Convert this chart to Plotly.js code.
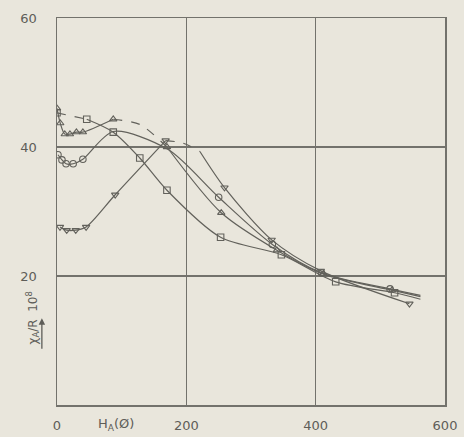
<!DOCTYPE html>
<html>
<head>
<meta charset="utf-8">
<script src="https://cdn.plot.ly/plotly-3.0.1.min.js"></script>
<style>
html,body{margin:0;padding:0;background:#e9e6dc;}
#chart{width:464px;height:437px;}
</style>
</head>
<body>
<div id="chart"></div>
<script>
// ---- data ----
var xTicks = [0, 200, 400, 600];
var yTicks = [20, 40, 60];
var xTickText = ["0", "200", "400", "600"];
var yTickText = ["20", "40", "60"];

// square series
var sqDashX = [0, 46];
var sqDashY = [45.3, 44.3];
var sqLineX = [46, 87, 128, 170, 253, 347, 431, 522, 562];
var sqLineY = [44.3, 42.3, 38.3, 33.3, 26.0, 23.3, 19.1, 17.4, 16.4];
var sqMarkX = [0, 46, 87, 128, 170, 253, 347, 431, 522];
var sqMarkY = [45.3, 44.3, 42.3, 38.3, 33.3, 26.0, 23.3, 19.1, 17.4];

// circle series
var ciLineX = [1.5, 7.7, 14, 25, 40, 87, 172, 250, 333, 409, 515, 562];
var ciLineY = [38.8, 38.0, 37.4, 37.4, 38.1, 42.4, 39.6, 32.2, 24.9, 20.5, 18.0, 17.0];
var ciMarkX = [1.5, 7.7, 14, 25, 40, 250, 333, 409, 515];
var ciMarkY = [38.8, 38.0, 37.4, 37.4, 38.1, 32.2, 24.9, 20.5, 18.0];

// triangle-up series
var tuLineX = [0, 5, 12, 20, 30, 40, 87];
var tuLineY = [46.0, 43.7, 42.0, 42.0, 42.3, 42.3, 44.3];
var tuDashX = [87, 128, 170];
var tuDashY = [44.3, 43.5, 40.0];
var tuLine2X = [170, 254, 340, 412, 518, 562];
var tuLine2Y = [40.0, 29.8, 24.0, 20.3, 17.8, 16.8];
var tuMarkX = [0, 5, 12, 20, 30, 40, 87, 170, 254, 340, 412, 518];
var tuMarkY = [46.0, 43.7, 42.0, 42.0, 42.3, 42.3, 44.3, 40.0, 29.8, 24.0, 20.3, 17.8];

// triangle-down series
var tdLineX = [4.6, 15, 29, 45, 90, 168];
var tdLineY = [27.6, 27.1, 27.1, 27.6, 32.6, 41.0];
var tdDashX = [168, 195, 221];
var tdDashY = [41.0, 40.6, 39.3];
var tdLine2X = [221, 259, 332, 408, 545];
var tdLine2Y = [39.3, 33.7, 25.6, 20.8, 15.7];
var tdMarkX = [4.6, 15, 29, 45, 90, 168, 259, 332, 408, 545];
var tdMarkY = [27.6, 27.1, 27.1, 27.6, 32.6, 41.0, 33.7, 25.6, 20.8, 15.7];

// ---- styling ----
var ink = '#62615b';
function lineTrace(x, y, dash) {
  return {x: x, y: y, type: 'scatter', mode: 'lines', hoverinfo: 'skip',
    line: {color: ink, width: 1.2, dash: dash, shape: 'spline', smoothing: 0.8}};
}
function markTrace(x, y, sym) {
  return {x: x, y: y, type: 'scatter', mode: 'markers',
    marker: {symbol: sym, size: 6.5, color: ink, line: {color: ink, width: 1.1}}};
}

var traces = [
  lineTrace(sqDashX, sqDashY, 'dash'),
  lineTrace(sqLineX, sqLineY, 'solid'),
  lineTrace(ciLineX, ciLineY, 'solid'),
  lineTrace(tuLineX, tuLineY, 'solid'),
  lineTrace(tuDashX, tuDashY, 'dash'),
  lineTrace(tuLine2X, tuLine2Y, 'solid'),
  lineTrace(tdLineX, tdLineY, 'solid'),
  lineTrace(tdDashX, tdDashY, 'dash'),
  lineTrace(tdLine2X, tdLine2Y, 'solid'),
  markTrace(sqMarkX, sqMarkY, 'square-open'),
  markTrace(ciMarkX, ciMarkY, 'circle-open'),
  markTrace(tuMarkX, tuMarkY, 'triangle-up-open'),
  markTrace(tdMarkX, tdMarkY, 'triangle-down-open')
];

var tickFont = {family: 'DejaVu Sans, sans-serif', size: 13, color: '#5e5d58'};
var layout = {
  width: 464, height: 437,
  margin: {l: 57, r: 19, t: 18, b: 32},
  paper_bgcolor: '#e9e6dc', plot_bgcolor: '#e9e6dc',
  showlegend: false,
  xaxis: {range: [0, 600], tickvals: xTicks, ticktext: xTickText, showgrid: true,
    gridcolor: '#73726c', gridwidth: 1.2, zeroline: false, showline: true, linecolor: '#73726c',
    linewidth: 1.5, mirror: true, ticks: '', tickfont: tickFont, ticklabelstandoff: 8},
  yaxis: {range: [0, 60], tickvals: yTicks, ticktext: yTickText, showgrid: true,
    gridcolor: '#73726c', gridwidth: 1.2, zeroline: false, showline: true, linecolor: '#73726c',
    linewidth: 1.5, mirror: true, ticks: '', tickfont: tickFont, ticklabelstandoff: 16},
  annotations: [
    {text: 'H<sub>A</sub>(Ø)', xref: 'x', yref: 'paper', x: 92, y: 0, yshift: -19,
     showarrow: false, font: tickFont, xanchor: 'center', yanchor: 'middle'},
    {text: 'χ<sub>A</sub>/R  10<sup>8</sup>', xref: 'paper', yref: 'paper', x: -0.09, y: 0.15,
     textangle: -90, showarrow: false, font: {family: 'DejaVu Sans, sans-serif', size: 12, color: '#5e5d58'}},
    {text: '', xref: 'paper', yref: 'paper', x: -0.039, y: 0.224, ax: 0, ay: 32,
     showarrow: true, arrowhead: 2, arrowsize: 1, arrowwidth: 1.3, arrowcolor: '#5e5d58'}
  ]
};

Plotly.newPlot('chart', traces, layout, {staticPlot: true});
</script>
</body>
</html>
